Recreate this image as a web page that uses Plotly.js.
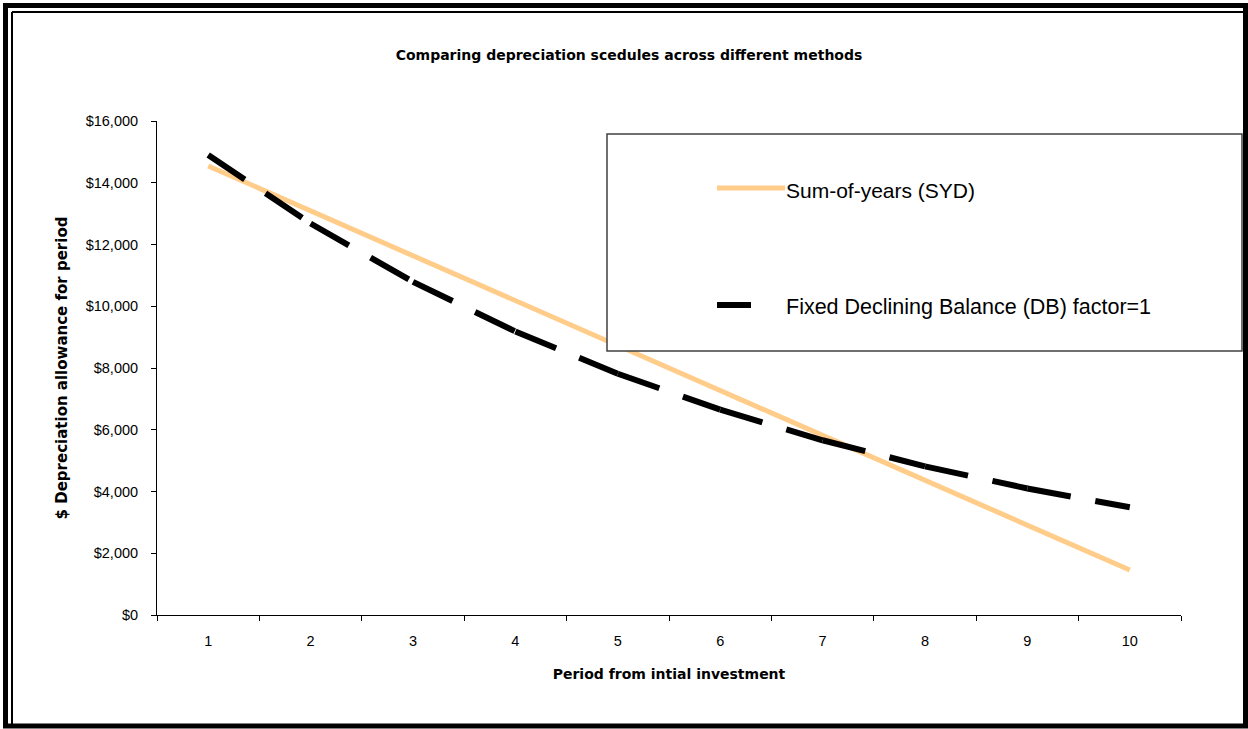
<!DOCTYPE html>
<html>
<head>
<meta charset="utf-8">
<script src="https://cdn.plot.ly/plotly-3.0.1.min.js"></script>
<style>
  html, body { margin: 0; padding: 0; background: #fff; }
  #chart { width: 1248px; height: 729px; }
</style>
</head>
<body>
<div id="chart"></div>
<script>
// ---- Data ----
var periods = ['1', '2', '3', '4', '5', '6', '7', '8', '9', '10'];
var sydValues = [14545, 13091, 11636, 10182, 8727, 7273, 5818, 4364, 2909, 1455];
var dbValues = [14900, 12680, 10791, 9183, 7815, 6650, 5659, 4816, 4098, 3488];
var seriesNames = ['Sum-of-years (SYD)', 'Fixed Declining Balance (DB) factor=1'];
var yTickVals = [0, 2000, 4000, 6000, 8000, 10000, 12000, 14000, 16000];
var yTickText = ['$0', '$2,000', '$4,000', '$6,000', '$8,000', '$10,000', '$12,000', '$14,000', '$16,000'];

// ---- Geometry helpers (pixel -> paper) ----
var L = 157, R = 1181, T = 121, B = 615, W = 1248, H = 729;
function px(x) { return (x - L) / (R - L); }
function py(y) { return (B - y) / (B - T); }

var FONT = 'Liberation Sans, Arial, sans-serif';
var BOLD_FONT = 'DejaVu Sans, Liberation Sans, sans-serif';
var SYD_COLOR = '#FFCC8A';

var traces = [];
traces.push({
  type: 'scatter', mode: 'lines', name: seriesNames[0],
  x: periods, y: sydValues,
  line: { color: SYD_COLOR, width: 5 },
  showlegend: false, hoverinfo: 'x+y'
});
// DB drawn segment by segment so the dash pattern restarts at each point
for (var i = 0; i < periods.length - 1; i++) {
  traces.push({
    type: 'scatter', mode: 'lines', name: seriesNames[1],
    x: [periods[i], periods[i + 1]], y: [dbValues[i], dbValues[i + 1]],
    line: { color: '#000', width: 6, dash: '44px,25px' },
    showlegend: false, hoverinfo: 'x+y'
  });
}

var shapes = [
  // outer thick frame
  { type: 'rect', xref: 'paper', yref: 'paper', x0: px(5.5), x1: px(1245.5), y0: py(726), y1: py(5.5),
    line: { color: '#000', width: 5 }, fillcolor: 'rgba(0,0,0,0)', layer: 'above' },
  // inner thin lines (left, top)
  { type: 'line', xref: 'paper', yref: 'paper', x0: px(12), x1: px(12), y0: py(12), y1: py(724),
    line: { color: '#000', width: 2 }, layer: 'above' },
  { type: 'line', xref: 'paper', yref: 'paper', x0: px(12), x1: px(1243), y0: py(12), y1: py(12),
    line: { color: '#000', width: 2 }, layer: 'above' },
  // legend box
  { type: 'rect', xref: 'paper', yref: 'paper', x0: px(607), x1: px(1242), y0: py(351), y1: py(134),
    line: { color: '#404040', width: 1.5 }, fillcolor: '#fff', layer: 'above' },
  // legend samples
  { type: 'line', xref: 'paper', yref: 'paper', x0: px(717), x1: px(785), y0: py(188), y1: py(188),
    line: { color: SYD_COLOR, width: 5 }, layer: 'above' },
  { type: 'line', xref: 'paper', yref: 'paper', x0: px(717), x1: px(751), y0: py(305), y1: py(305),
    line: { color: '#000', width: 6 }, layer: 'above' }
];

var annotations = [
  { xref: 'paper', yref: 'paper', x: px(784), y: py(190), xanchor: 'left', yanchor: 'middle',
    text: seriesNames[0], showarrow: false, font: { family: FONT, size: 21, color: '#000' } },
  { xref: 'paper', yref: 'paper', x: px(784), y: py(307), xanchor: 'left', yanchor: 'middle',
    text: seriesNames[1], showarrow: false, font: { family: FONT, size: 21.5, color: '#000' } }
];

var layout = {
  width: W, height: H,
  margin: { l: L, r: W - R, t: T, b: H - B, pad: 0 },
  paper_bgcolor: '#fff', plot_bgcolor: '#fff',
  showlegend: false,
  font: { family: FONT, color: '#000', size: 14 },
  title: {
    text: '<b>Comparing depreciation scedules across different methods</b>',
    font: { family: BOLD_FONT, size: 14, color: '#000' },
    xref: 'container', yref: 'container', x: 629 / W, y: 1 - 55 / H,
    xanchor: 'center', yanchor: 'middle'
  },
  xaxis: {
    type: 'category', range: [-0.5, 9.5],
    showline: true, linecolor: '#000', linewidth: 1,
    ticks: 'outside', ticklen: 5, tickcolor: '#000', tickwidth: 1,
    tickson: 'boundaries', showgrid: false, zeroline: false,
    tickfont: { family: FONT, size: 14.5, color: '#000' },
    ticklabelstandoff: 13,
    automargin: true,
    title: { text: '<b>Period from intial investment</b>', font: { family: BOLD_FONT, size: 14, color: '#000' }, standoff: 20 }
  },
  yaxis: {
    range: [0, 16000], tickmode: 'array', tickvals: yTickVals, ticktext: yTickText,
    showline: true, linecolor: '#000', linewidth: 1,
    ticks: 'outside', ticklen: 5, tickcolor: '#000', tickwidth: 1,
    showgrid: false, zeroline: false,
    tickfont: { family: FONT, size: 14.5, color: '#000' },
    ticklabelstandoff: 10,
    automargin: true,
    title: { text: '<b>$ Depreciation allowance for period</b>', font: { family: BOLD_FONT, size: 15, color: '#000' }, standoff: 14 }
  },
  shapes: shapes,
  annotations: annotations
};

Plotly.newPlot('chart', traces, layout, { displayModeBar: false, staticPlot: true });
</script>
</body>
</html>
